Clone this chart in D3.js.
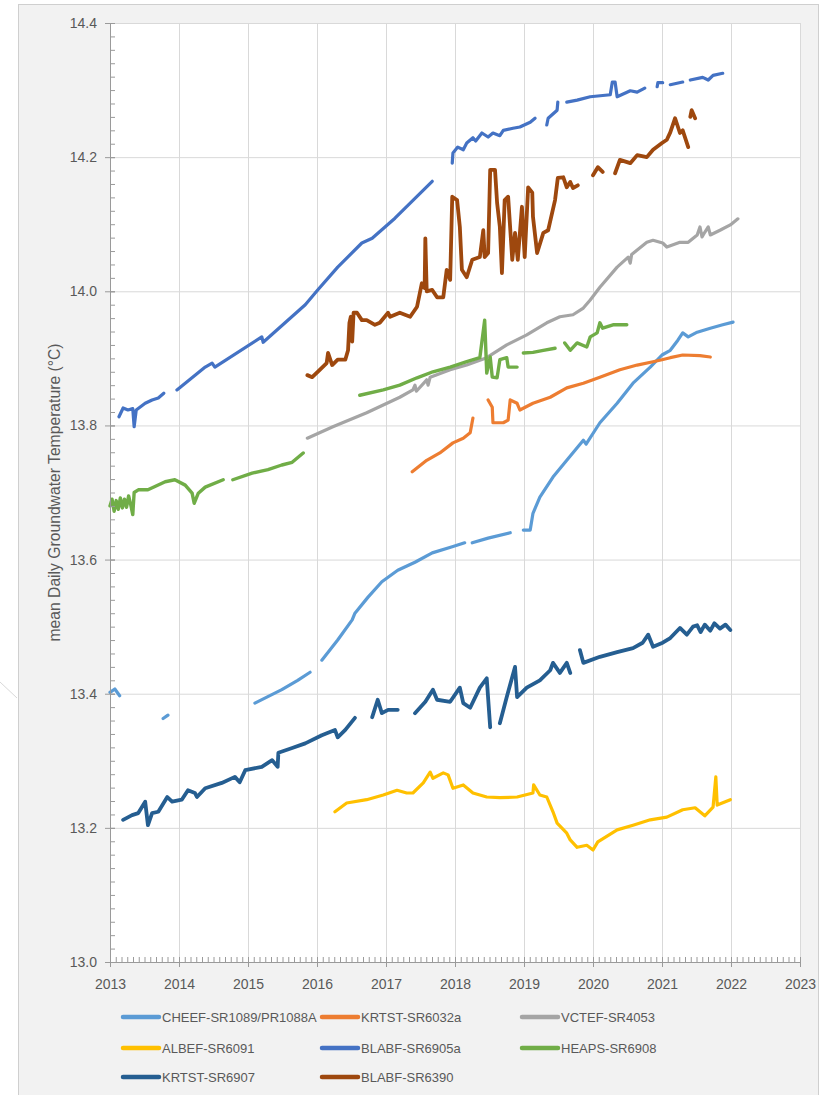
<!DOCTYPE html>
<html>
<head>
<meta charset="utf-8">
<script src="https://cdn.jsdelivr.net/npm/d3@7"></script>
<style>
  body { margin: 0; background: #fff; }
  text { font-family: "Liberation Sans", Arial, sans-serif; fill: #595959; }
</style>
</head>
<body>
<div id="wrapper"></div>
<script>
// tick labels
const xYears = [2013, 2014, 2015, 2016, 2017, 2018, 2019, 2020, 2021, 2022, 2023]
const yTicks = [13.0, 13.2, 13.4, 13.6, 13.8, 14.0, 14.2, 14.4]

// series, in the order the legend lists them
const seriesNames = ["CHEEF-SR1089/PR1088A", "KRTST-SR6032a", "VCTEF-SR4053",
  "ALBEF-SR6091", "BLABF-SR6905a", "HEAPS-SR6908", "KRTST-SR6907", "BLABF-SR6390"]
const seriesColors = ["#5b9bd5", "#ed7d31", "#a5a5a5", "#ffc000",
  "#4472c4", "#70ad47", "#255e91", "#9e480e"]
// the noisy records read thicker in the original
const seriesWidths = [3.2, 3.2, 3.2, 3.2, 3.2, 3.4, 3.8, 3.8]

// [decimal year, °C], null = gap in the logger record
const cheef = [
  [2013.00,13.402],[2013.07,13.407],[2013.14,13.397], null,
  [2013.77,13.363],[2013.84,13.368], null,
  [2015.10,13.386],[2015.49,13.406],[2015.72,13.420],[2015.90,13.432], null,
  [2016.07,13.450],[2016.30,13.480],[2016.51,13.510],[2016.55,13.520],[2016.74,13.544],[2016.94,13.567],
  [2017.17,13.584],[2017.42,13.596],[2017.67,13.610],[2017.96,13.619],[2018.14,13.625], null,
  [2018.25,13.625],[2018.48,13.632],[2018.80,13.640], null,
  [2018.99,13.644],[2019.09,13.644],[2019.13,13.669],[2019.23,13.693],[2019.42,13.723],[2019.62,13.748],
  [2019.86,13.778],[2019.90,13.772],[2020.10,13.804],[2020.35,13.833],[2020.58,13.863],[2020.83,13.887],
  [2021.00,13.905],[2021.12,13.912],[2021.23,13.927],[2021.30,13.938],[2021.38,13.932],[2021.51,13.939],
  [2021.70,13.945],[2021.88,13.950],[2022.03,13.954]
]
const krtst6032a = [
  [2017.38,13.731],[2017.59,13.748],[2017.78,13.759],[2017.97,13.774],[2018.12,13.781],[2018.22,13.789],[2018.26,13.811], null,
  [2018.48,13.838],[2018.54,13.827],[2018.55,13.804],[2018.70,13.804],[2018.77,13.808],[2018.80,13.838],[2018.90,13.833],
  [2018.94,13.823],[2019.13,13.833],[2019.38,13.842],[2019.62,13.856],[2019.86,13.863],[2020.10,13.872],[2020.39,13.883],
  [2020.64,13.890],[2020.87,13.895],[2021.00,13.898],[2021.12,13.901],[2021.30,13.905],[2021.55,13.904],[2021.70,13.902]
]
const vctef = [
  [2015.86,13.781],[2016.23,13.798],[2016.72,13.819],[2017.20,13.842],[2017.39,13.853],[2017.42,13.860],[2017.44,13.851],
  [2017.59,13.868],[2017.61,13.860],[2017.64,13.872],[2017.93,13.883],[2018.17,13.890],[2018.46,13.901],[2018.75,13.920],
  [2019.04,13.935],[2019.33,13.953],[2019.52,13.962],[2019.71,13.965],[2019.86,13.975],[2019.96,13.987],[2020.10,14.006],
  [2020.35,14.036],[2020.51,14.051],[2020.54,14.042],[2020.56,14.055],[2020.78,14.073],[2020.87,14.076],[2021.01,14.072],
  [2021.07,14.066],[2021.26,14.073],[2021.38,14.073],[2021.51,14.084],[2021.55,14.096],[2021.58,14.081],[2021.62,14.088],
  [2021.67,14.096],[2021.70,14.084],[2021.84,14.091],[2021.99,14.099],[2022.10,14.108]
]
const albef = [
  [2016.26,13.224],[2016.43,13.237],[2016.72,13.242],[2016.96,13.249],[2017.16,13.256],[2017.30,13.252],[2017.39,13.252],
  [2017.54,13.267],[2017.64,13.283],[2017.68,13.274],[2017.83,13.282],[2017.90,13.279],[2017.97,13.259],[2018.12,13.264],
  [2018.26,13.252],[2018.46,13.246],[2018.65,13.245],[2018.90,13.246],[2019.13,13.252],[2019.14,13.264],[2019.23,13.249],
  [2019.33,13.246],[2019.42,13.224],[2019.48,13.207],[2019.62,13.192],[2019.67,13.182],[2019.77,13.171],[2019.91,13.174],
  [2020.00,13.167],[2020.07,13.179],[2020.35,13.197],[2020.58,13.204],[2020.83,13.212],[2021.07,13.216],[2021.30,13.227],
  [2021.48,13.230],[2021.62,13.218],[2021.74,13.231],[2021.78,13.276],[2021.80,13.234],[2021.99,13.242]
]
const blabf6905a = [
  [2013.13,13.813],[2013.19,13.826],[2013.26,13.823],[2013.33,13.825],[2013.35,13.798],[2013.38,13.823],[2013.51,13.833],
  [2013.61,13.838],[2013.70,13.841],[2013.78,13.848], null,
  [2013.97,13.853],[2014.38,13.887],[2014.48,13.893],[2014.52,13.887],[2015.20,13.932],[2015.22,13.924],[2015.83,13.980],
  [2016.01,14.002],[2016.30,14.036],[2016.65,14.072],[2016.80,14.079],[2017.13,14.109],[2017.67,14.164], null,
  [2017.96,14.191],[2017.97,14.206],[2018.04,14.215],[2018.12,14.211],[2018.17,14.221],[2018.26,14.229],[2018.30,14.224],
  [2018.39,14.236],[2018.48,14.230],[2018.55,14.236],[2018.65,14.232],[2018.70,14.240],[2018.84,14.243],[2018.94,14.245],
  [2019.09,14.252],[2019.16,14.258], null,
  [2019.33,14.248],[2019.35,14.258],[2019.48,14.270],[2019.49,14.282], null,
  [2019.62,14.282],[2019.77,14.285],[2019.96,14.290],[2020.25,14.293],[2020.28,14.312],[2020.32,14.312],[2020.35,14.290],
  [2020.54,14.299],[2020.64,14.297],[2020.75,14.303], null,
  [2020.93,14.305],[2020.94,14.311],[2021.01,14.311], null,
  [2021.12,14.308],[2021.30,14.312], null,
  [2021.41,14.315],[2021.59,14.319],[2021.67,14.315],[2021.74,14.322],[2021.88,14.325]
]
const heaps = [
  [2013.00,13.680],[2013.03,13.690],[2013.06,13.672],[2013.09,13.688],[2013.12,13.675],[2013.15,13.692],[2013.18,13.677],
  [2013.21,13.690],[2013.24,13.678],[2013.27,13.695],[2013.30,13.682],[2013.33,13.667],[2013.35,13.700],[2013.41,13.704],
  [2013.55,13.704],[2013.80,13.716],[2013.94,13.719],[2014.09,13.711],[2014.19,13.699],[2014.22,13.684],[2014.28,13.699],
  [2014.38,13.708],[2014.64,13.719], null,
  [2014.78,13.719],[2015.06,13.729],[2015.29,13.734],[2015.49,13.741],[2015.64,13.745],[2015.80,13.759], null,
  [2016.62,13.845],[2016.96,13.853],[2017.20,13.860],[2017.45,13.871],[2017.68,13.880],[2017.93,13.887],[2018.17,13.895],
  [2018.36,13.901],[2018.43,13.957],[2018.46,13.878],[2018.51,13.902],[2018.54,13.872],[2018.61,13.871],[2018.65,13.898],
  [2018.75,13.901],[2018.77,13.887],[2018.90,13.887], null,
  [2018.99,13.908],[2019.13,13.909],[2019.28,13.912],[2019.45,13.915], null,
  [2019.59,13.923],[2019.67,13.912],[2019.77,13.923],[2019.91,13.917],[2019.96,13.932],[2020.06,13.938],[2020.10,13.953],
  [2020.14,13.945],[2020.29,13.950],[2020.49,13.950]
]
const krtst6907 = [
  [2013.19,13.212],[2013.32,13.219],[2013.41,13.222],[2013.51,13.239],[2013.55,13.204],[2013.61,13.222],[2013.70,13.224],
  [2013.83,13.246],[2013.90,13.239],[2014.04,13.242],[2014.13,13.256],[2014.23,13.252],[2014.26,13.246],[2014.38,13.259],
  [2014.62,13.267],[2014.81,13.276],[2014.88,13.268],[2014.96,13.286],[2015.20,13.291],[2015.35,13.301],[2015.43,13.291],
  [2015.44,13.312],[2015.64,13.319],[2015.83,13.326],[2016.07,13.338],[2016.26,13.346],[2016.30,13.335],[2016.41,13.346],
  [2016.55,13.364], null,
  [2016.80,13.365],[2016.88,13.391],[2016.94,13.371],[2017.03,13.376],[2017.17,13.376], null,
  [2017.42,13.371],[2017.57,13.388],[2017.68,13.406],[2017.74,13.391],[2017.93,13.388],[2018.07,13.409],[2018.12,13.386],
  [2018.22,13.379],[2018.36,13.409],[2018.46,13.423],[2018.51,13.350], null,
  [2018.65,13.356],[2018.75,13.395],[2018.87,13.440],[2018.90,13.395],[2019.04,13.409],[2019.23,13.420],[2019.38,13.435],
  [2019.42,13.446],[2019.52,13.431],[2019.62,13.446],[2019.67,13.431], null,
  [2019.81,13.465],[2019.86,13.446],[2020.10,13.455],[2020.35,13.462],[2020.58,13.468],[2020.72,13.476],[2020.80,13.488],
  [2020.87,13.470],[2021.01,13.476],[2021.12,13.483],[2021.26,13.498],[2021.36,13.488],[2021.45,13.500],[2021.51,13.502],
  [2021.56,13.492],[2021.62,13.503],[2021.70,13.494],[2021.76,13.505],[2021.84,13.497],[2021.92,13.503],[2021.99,13.495]
]
const blabf6390 = [
  [2015.86,13.875],[2015.93,13.872],[2016.01,13.880],[2016.14,13.893],[2016.16,13.908],[2016.22,13.890],[2016.30,13.898],
  [2016.41,13.898],[2016.45,13.912],[2016.47,13.953],[2016.49,13.962],[2016.51,13.925],[2016.53,13.968],[2016.58,13.968],
  [2016.65,13.957],[2016.72,13.957],[2016.84,13.950],[2016.91,13.953],[2017.03,13.968],[2017.06,13.962],[2017.20,13.968],
  [2017.35,13.962],[2017.45,13.977],[2017.52,14.012],[2017.56,14.005],[2017.57,14.079],[2017.59,14.000],[2017.67,14.002],
  [2017.74,13.991],[2017.83,13.991],[2017.88,14.032],[2017.93,14.017],[2017.96,14.141],[2018.03,14.136],[2018.07,14.096],
  [2018.10,14.032],[2018.17,14.021],[2018.25,14.047],[2018.36,14.051],[2018.41,14.091],[2018.43,14.051],[2018.48,14.057],
  [2018.51,14.181],[2018.58,14.181],[2018.61,14.132],[2018.65,14.096],[2018.68,14.027],[2018.72,14.136],[2018.77,14.141],
  [2018.83,14.047],[2018.87,14.087],[2018.91,14.047],[2018.97,14.126],[2019.01,14.051],[2019.06,14.155],[2019.12,14.147],
  [2019.13,14.111],[2019.19,14.057],[2019.28,14.087],[2019.35,14.091],[2019.45,14.136],[2019.49,14.169],[2019.57,14.170],
  [2019.62,14.155],[2019.67,14.163],[2019.71,14.154],[2019.78,14.158], null,
  [2020.00,14.173],[2020.07,14.185],[2020.14,14.178], null,
  [2020.32,14.176],[2020.39,14.196],[2020.54,14.191],[2020.64,14.203],[2020.78,14.200],[2020.87,14.211],[2021.00,14.221],
  [2021.07,14.226],[2021.12,14.237],[2021.19,14.258],[2021.26,14.236],[2021.30,14.240],[2021.38,14.215], null,
  [2021.41,14.260],[2021.43,14.270],[2021.48,14.258]
]

const seriesData = [cheef, krtst6032a, vctef, albef, blabf6905a, heaps, krtst6907, blabf6390]

function drawLineChart() {

  // 1. Chart dimensions

  let dimensions = {
    width: 825,
    height: 1095,
    margin: {
      top: 23,
      right: 25,
      bottom: 133,
      left: 110,
    },
  }
  dimensions.boundedWidth = dimensions.width
    - dimensions.margin.left
    - dimensions.margin.right
  dimensions.boundedHeight = dimensions.height
    - dimensions.margin.top
    - dimensions.margin.bottom

  // 2. Canvas

  const wrapper = d3.select("#wrapper")
    .append("svg")
      .attr("width", dimensions.width)
      .attr("height", dimensions.height)

  // chart area frame + the stray line at the far left of the screenshot
  wrapper.append("rect")
      .attr("x", 18.5)
      .attr("y", 4.5)
      .attr("width", 800)
      .attr("height", dimensions.height)
      .attr("fill", "#f2f2f2")
      .attr("stroke", "#cfcfcf")
  wrapper.append("line")
      .attr("x1", 0).attr("y1", 682)
      .attr("x2", 17).attr("y2", 698)
      .attr("stroke", "#d8d8d8")

  const bounds = wrapper.append("g")
      .attr("transform", `translate(${dimensions.margin.left}, ${dimensions.margin.top})`)

  bounds.append("rect")
      .attr("width", dimensions.boundedWidth)
      .attr("height", dimensions.boundedHeight)
      .attr("fill", "#fff")

  // 3. Scales

  const xScale = d3.scaleLinear()
    .domain([2013, 2023])
    .range([0, dimensions.boundedWidth])

  const yScale = d3.scaleLinear()
    .domain([13.0, 14.4])
    .range([dimensions.boundedHeight, 0])

  // 4. Gridlines

  bounds.append("g")
      .call(d3.axisLeft(yScale).tickValues(yTicks).tickSize(-dimensions.boundedWidth).tickFormat(""))
      .call(g => g.select(".domain").remove())
      .call(g => g.selectAll("line").attr("stroke", "#d9d9d9"))

  bounds.append("g")
      .attr("transform", `translate(0, ${dimensions.boundedHeight})`)
      .call(d3.axisBottom(xScale).tickValues(xYears).tickSize(-dimensions.boundedHeight).tickFormat(""))
      .call(g => g.select(".domain").remove())
      .call(g => g.selectAll("line").attr("stroke", "#d9d9d9"))

  // 5. Data

  const lineGenerator = d3.line()
    .defined(d => d !== null)
    .x(d => xScale(d[0]))
    .y(d => yScale(d[1]))

  bounds.selectAll(".series")
    .data(seriesData)
    .join("path")
      .attr("class", "series")
      .attr("d", d => lineGenerator(d))
      .attr("fill", "none")
      .attr("stroke", (d, i) => seriesColors[i])
      .attr("stroke-width", (d, i) => seriesWidths[i])
      .attr("stroke-linejoin", "round")
      .attr("stroke-linecap", "round")

  // 6. Axes

  const axisColor = "#9a9a9a"

  // minor ticks, pointing inwards
  bounds.append("g")
      .call(d3.axisLeft(yScale).tickValues(d3.range(0, 71).map(i => 13 + i * 0.02)).tickSize(-5).tickFormat(""))
      .call(g => g.select(".domain").remove())
      .call(g => g.selectAll("line").attr("stroke", axisColor))

  bounds.append("g")
      .attr("transform", `translate(0, ${dimensions.boundedHeight})`)
      .call(d3.axisBottom(xScale).tickValues(d3.range(0, 121).map(i => 2013 + i / 12)).tickSize(-5).tickFormat(""))
      .call(g => g.select(".domain").remove())
      .call(g => g.selectAll("line").attr("stroke", axisColor))

  // major ticks + labels
  const yAxis = bounds.append("g")
      .call(d3.axisLeft(yScale).tickValues(yTicks).tickSize(5).tickSizeOuter(0).tickPadding(8).tickFormat(d3.format(".1f")))
  yAxis.select(".domain").attr("stroke", axisColor)
  yAxis.selectAll("line").attr("stroke", axisColor).attr("x2", -5).attr("x1", 5)
  yAxis.selectAll("text").style("font-size", "14px").attr("fill", "#595959")

  const xAxis = bounds.append("g")
      .attr("transform", `translate(0, ${dimensions.boundedHeight})`)
      .call(d3.axisBottom(xScale).tickValues(xYears).tickSize(5).tickSizeOuter(0).tickPadding(12).tickFormat(d3.format("d")))
  xAxis.select(".domain").attr("stroke", axisColor)
  xAxis.selectAll("line").attr("stroke", axisColor).attr("y1", -3)
  xAxis.selectAll("text").style("font-size", "14px").attr("fill", "#595959")

  // axis title
  wrapper.append("text")
      .attr("transform", `translate(60, ${dimensions.margin.top + dimensions.boundedHeight / 2}) rotate(-90)`)
      .attr("text-anchor", "middle")
      .style("font-size", "15.7px")
      .text("mean Daily Groundwater Temperature (°C)")

  // 7. Legend

  const legendCols = [123, 322, 522]
  const legendRows = [1017, 1048, 1077]

  const legend = wrapper.append("g")
  seriesNames.forEach((name, i) => {
    const lx = legendCols[i % 3]
    const ly = legendRows[Math.floor(i / 3)]
    legend.append("line")
        .attr("x1", lx).attr("x2", lx + 36)
        .attr("y1", ly).attr("y2", ly)
        .attr("stroke", seriesColors[i])
        .attr("stroke-width", 4.5)
        .attr("stroke-linecap", "round")
    legend.append("text")
        .attr("x", lx + 39)
        .attr("y", ly)
        .attr("dy", "0.35em")
        .style("font-size", "13px")
        .text(name)
  })
}

drawLineChart()
</script>
</body>
</html>
